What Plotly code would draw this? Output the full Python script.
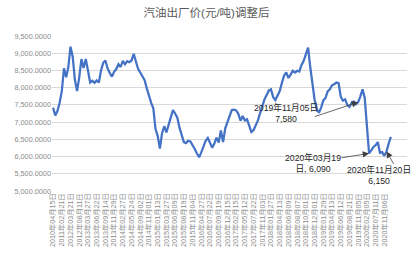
import plotly.graph_objects as go

# Gasoline ex-factory price (yuan/ton) after adjustment, one value per adjustment
prices = [
    7420, 7190, 7320, 7560, 7900, 8560, 8300, 8600, 9190, 8900,
    8230, 7900, 8300, 8830, 8570, 8830, 8500, 8150, 8200, 8140,
    8210, 8150, 8500, 8720, 8790, 8560, 8430, 8320, 8460, 8540,
    8680, 8600, 8780, 8680, 8770, 8740, 8790, 8980, 8760, 8550,
    8440, 8320, 8220, 7980, 7760, 7560, 7400, 6800, 6600, 6230,
    6680, 6880, 6700, 6900, 7150, 7350, 7250, 7130, 6840, 6630,
    6420, 6390, 6460, 6440, 6340, 6220, 6090, 5980, 6120, 6280,
    6460, 6540, 6400, 6260, 6380, 6550, 6410, 6760, 6420, 6820,
    7000, 7200, 7350, 7360, 7340, 7240, 7040, 7180, 7050, 7080,
    6880, 6710, 6770, 6900, 7050, 7260, 7500, 7660, 7790, 7920,
    7950, 7720, 7640, 7790, 7900, 8140, 8350, 8440, 8280, 8380,
    8490, 8440, 8490, 8470, 8660, 8780, 8980, 9165, 8600, 8150,
    7650, 7380, 7270, 7420, 7630, 7700, 7890, 7950, 8070, 8100,
    8150, 8130, 7740, 7620, 7660, 7500, 7440, 7560, 7600, 7520,
    7580, 7750, 7950, 7700, 7000, 6090, 6180, 6280, 6330, 6420,
    6110, 6130, 6020, 6150, 6380, 6570,
]

# Category labels shown on the axis (every 4th adjustment)
tick_labels = [
    "2010年04月15日", "2011年02月21日", "2012年03月21日", "2012年08月11日",
    "2013年03月27日", "2013年06月22日", "2013年09月14日", "2013年11月29日",
    "2014年02月27日", "2014年05月24日", "2014年09月02日", "2014年11月01日",
    "2015年01月13日", "2015年03月27日", "2015年06月09日", "2015年08月19日",
    "2015年11月04日", "2016年04月27日", "2016年07月22日", "2016年09月19日",
    "2016年12月15日", "2017年02月15日", "2017年05月12日", "2017年07月22日",
    "2017年11月03日", "2018年01月27日", "2018年04月13日", "2018年06月09日",
    "2018年08月07日", "2018年10月01日", "2018年12月01日", "2019年01月29日",
    "2019年04月13日", "2019年06月12日", "2019年08月21日", "2019年11月05日",
    "2020年02月05日", "2020年07月11日", "2020年11月06日",
]
label_step = 4

# Labelled points: (index in series, label text)
callout_idx = [140, 145, 153]
callout_text = ["2019年11月05日<br>7,580", "2020年03月19<br>日, 6,090", "2020年11月20日<br>6,150"]

FONT = "Liberation Sans, Arial, Noto Sans CJK SC, sans-serif"

x_idx = list(range(len(prices)))
tick_pos = [i * label_step for i in range(len(tick_labels))]

fig = go.Figure()
fig.add_trace(go.Scatter(
    x=x_idx, y=prices, mode="lines",
    line=dict(color="#4472C4", width=2.25),
    hoverinfo="skip", showlegend=False,
))

# arrow tails (pixel offsets from point) and text offsets
arrow_off = [(-45, 15), (-29, 4.5), (8, 14)]
text_off = [(-72.5, -10.5), (-56, -10), (-7.5, -24)]

annotations = []
for k, i in enumerate(callout_idx):
    axo, ayo = arrow_off[k]
    annotations.append(dict(
        x=i, y=prices[i], xref="x", yref="y", text="",
        showarrow=True, ax=axo, ay=ayo, axref="pixel", ayref="pixel",
        arrowhead=2, arrowsize=1.6, arrowwidth=0.8, arrowcolor="#404040",
        standoff=0, startstandoff=0,
    ))
    xs, ys = text_off[k]
    annotations.append(dict(
        x=i, y=prices[i], xref="x", yref="y", text=callout_text[k],
        showarrow=False, xshift=xs, yshift=ys, align="center",
        font=dict(family=FONT, size=8.7, color="#262626"),
    ))

fig.update_layout(
    width=413, height=253,
    margin=dict(l=52, r=6, t=36, b=60),
    paper_bgcolor="white", plot_bgcolor="white",
    title=dict(text="汽油出厂价(元/吨)调整后", x=0.5, xref="container", xanchor="center",
               y=1 - 13 / 253, yref="container", yanchor="middle",
               font=dict(family=FONT, size=11.5, color="#595959")),
    annotations=annotations,
    xaxis=dict(
        range=[-0.5, 162.4], tickmode="array", tickvals=tick_pos, ticktext=tick_labels,
        tickangle=-90, showgrid=False, zeroline=False, showline=False, ticks="",
        tickfont=dict(family=FONT, size=7.2, color="#8c8c8c"),
    ),
    yaxis=dict(
        range=[5000, 9500], tickmode="array", tickvals=list(range(5000, 9501, 500)),
        tickformat=",.4f", showgrid=True, gridcolor="#d9d9d9", gridwidth=1,
        zeroline=False, showline=False, ticks="",
        tickfont=dict(family=FONT, size=7.3, color="#8c8c8c"),
    ),
)

fig.write_html("out.html")
